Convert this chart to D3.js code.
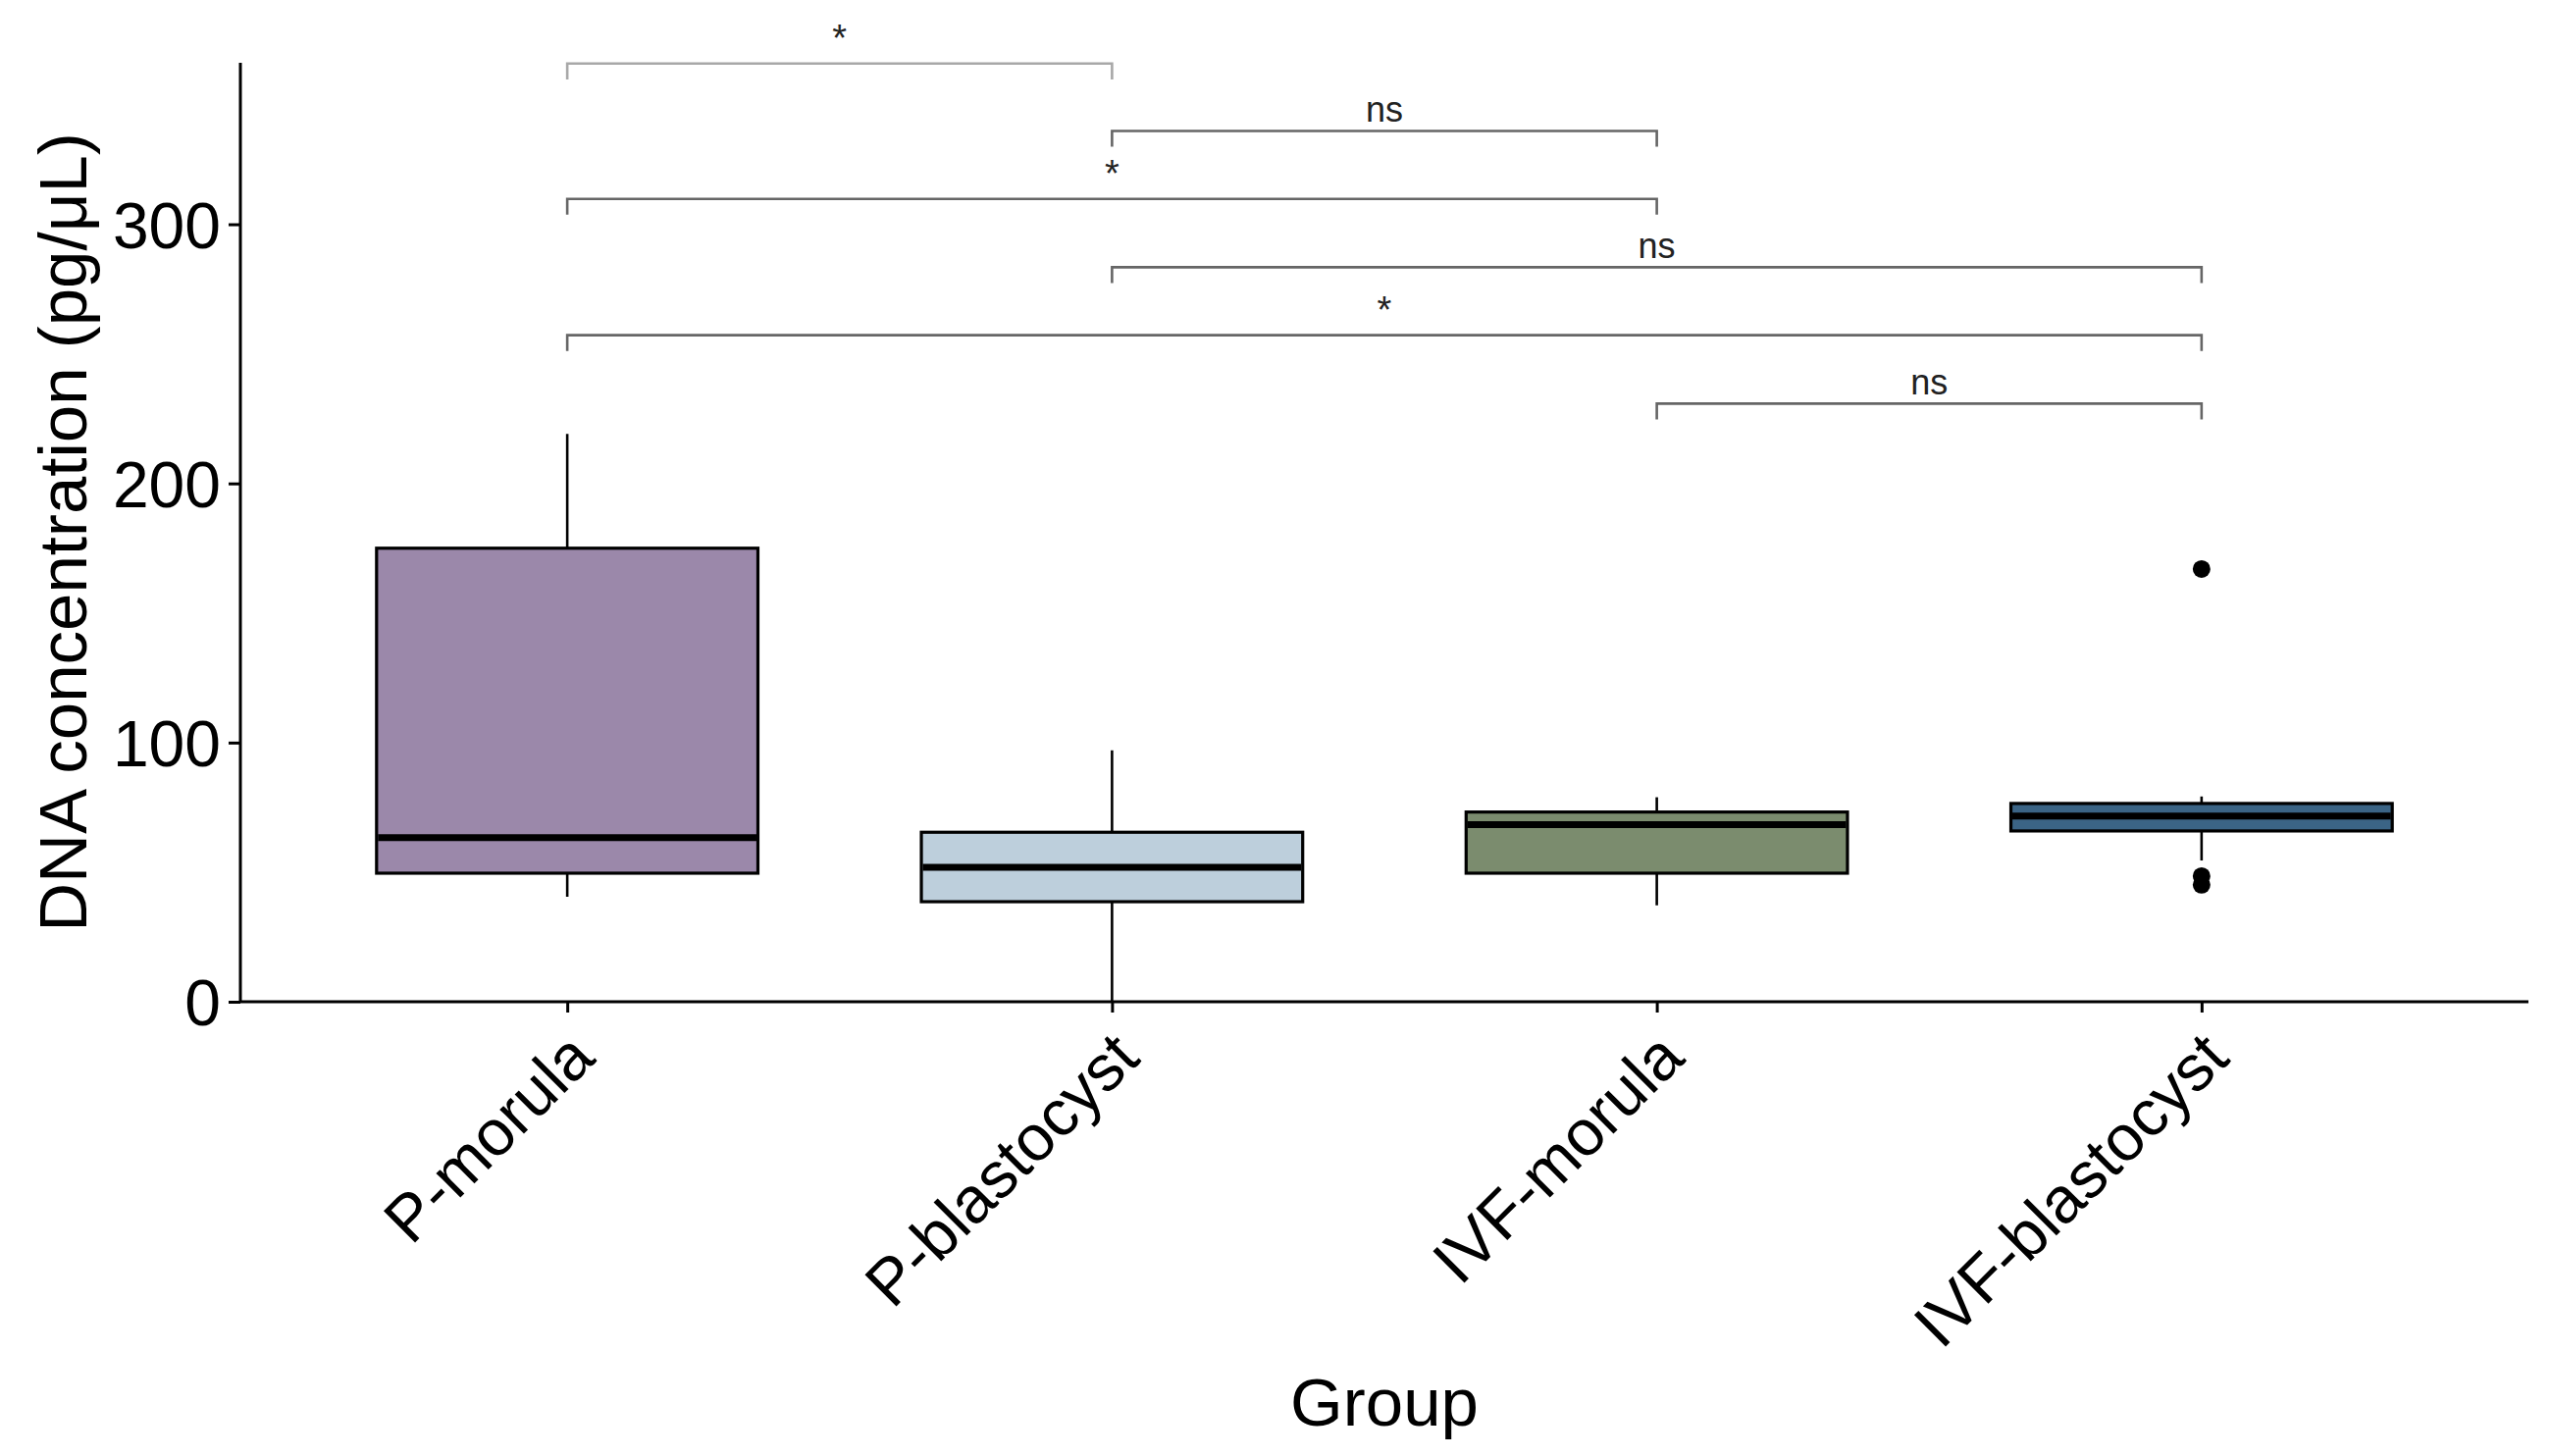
<!DOCTYPE html>
<html>
<head>
<meta charset="utf-8">
<script src="https://cdn.jsdelivr.net/npm/d3@7"></script>
<style>
  html, body { margin: 0; padding: 0; background: #ffffff; }
  svg { display: block; font-family: "Liberation Sans", Arial, sans-serif; }
</style>
</head>
<body>
<svg id="chart" width="2600" height="1484"></svg>
<script>
// ---- data ----
const categories   = ["P-morula", "P-blastocyst", "IVF-morula", "IVF-blastocyst"];
const whiskerLow   = [40.5, 0, 37.2, 54.5];
const q1           = [49.6, 38.6, 49.6, 65.9];
const medians      = [63.3, 51.9, 68.3, 71.6];
const q3           = [175.0, 65.4, 73.2, 76.5];
const whiskerHigh  = [219.1, 97.0, 78.9, 79.2];
const outlierGroup = ["IVF-blastocyst", "IVF-blastocyst", "IVF-blastocyst"];
const outlierValue = [167.0, 48.5, 45.1];
const fillColors   = ["#9b88aa", "#bdcfdc", "#7b8c6e", "#3b6485"];
const yTicks       = [0, 100, 200, 300];
const yDomain      = [0, 362.3];

// significance brackets (ggsignif-style)
const bracketFrom  = ["P-morula", "P-blastocyst", "P-morula", "P-blastocyst", "P-morula", "IVF-morula"];
const bracketTo    = ["P-blastocyst", "IVF-morula", "IVF-morula", "IVF-blastocyst", "IVF-blastocyst", "IVF-blastocyst"];
const bracketY     = [362.0, 336.0, 309.8, 283.4, 257.2, 230.8];
const bracketLabel = ["*", "ns", "*", "ns", "*", "ns"];
const bracketTip   = 6.1;

const xTitle = "Group";
const yTitle = "DNA concentration (pg/\u03bcL)";

// ---- layout ----
const plotLeft = 245, plotRight = 2577, plotTop = 64, plotBottom = 1021;

const svg = d3.select("#chart");
svg.append("rect").attr("width", 2600).attr("height", 1484).attr("fill", "#ffffff");

const x = d3.scalePoint().domain(categories).range([plotLeft, plotRight]).padding(0.6);
const y = d3.scaleLinear().domain(yDomain).range([plotBottom, plotTop]);
const boxW = x.step() * 0.7;

// ---- boxes ----
const boxes = categories.map((c, i) => ({
  cat: c, lo: whiskerLow[i], q1: q1[i], med: medians[i], q3: q3[i], hi: whiskerHigh[i], fill: fillColors[i]
}));

const g = svg.append("g");
const bg = g.selectAll("g.box").data(boxes).join("g").attr("class", "box");

// whiskers
bg.append("line")
  .attr("x1", d => x(d.cat)).attr("x2", d => x(d.cat))
  .attr("y1", d => y(d.q3)).attr("y2", d => y(d.hi))
  .attr("stroke", "#000").attr("stroke-width", 2.6);
bg.append("line")
  .attr("x1", d => x(d.cat)).attr("x2", d => x(d.cat))
  .attr("y1", d => y(d.q1)).attr("y2", d => y(d.lo))
  .attr("stroke", "#000").attr("stroke-width", 2.6);
// box
bg.append("rect")
  .attr("x", d => x(d.cat) - boxW / 2).attr("width", boxW)
  .attr("y", d => y(d.q3)).attr("height", d => y(d.q1) - y(d.q3))
  .attr("fill", d => d.fill).attr("stroke", "#000").attr("stroke-width", 3.2);
// median
bg.append("line")
  .attr("x1", d => x(d.cat) - boxW / 2 + 1.5).attr("x2", d => x(d.cat) + boxW / 2 - 1.5)
  .attr("y1", d => y(d.med)).attr("y2", d => y(d.med))
  .attr("stroke", "#000").attr("stroke-width", 7);

// outliers
g.selectAll("circle.out").data(outlierGroup.map((c, i) => ({ cat: c, v: outlierValue[i] })))
  .join("circle").attr("class", "out")
  .attr("cx", d => x(d.cat)).attr("cy", d => y(d.v)).attr("r", 9)
  .attr("fill", "#000");

// ---- axes ----
const yAxis = d3.axisLeft(y).tickValues(yTicks).tickSize(12).tickPadding(8).tickFormat(d3.format("d"));
const yG = svg.append("g").attr("transform", `translate(${plotLeft},0)`).call(yAxis);
yG.select(".domain").attr("d", `M0,${plotTop}V${plotBottom}`).attr("stroke", "#000").attr("stroke-width", 3);
yG.selectAll(".tick line").attr("stroke", "#000").attr("stroke-width", 3);
yG.selectAll(".tick text").attr("font-size", 66).attr("fill", "#000")
  .attr("font-family", "Liberation Sans, Arial, sans-serif").attr("dy", "0.36em");

const xAxis = d3.axisBottom(x).tickSize(11).tickPadding(0);
const xG = svg.append("g").attr("transform", `translate(0,${plotBottom})`).call(xAxis);
xG.select(".domain").attr("d", `M${plotLeft},0H${plotRight}`).attr("stroke", "#000").attr("stroke-width", 3);
xG.selectAll(".tick line").attr("stroke", "#000").attr("stroke-width", 3);
xG.selectAll(".tick text")
  .attr("font-size", 66).attr("fill", "#000")
  .attr("font-family", "Liberation Sans, Arial, sans-serif")
  .attr("text-anchor", "end")
  .attr("y", 0).attr("dy", 0)
  .attr("transform", "translate(30,60) rotate(-45)");

// ---- titles ----
svg.append("text").attr("x", (plotLeft + plotRight) / 2).attr("y", 1453)
  .attr("text-anchor", "middle").attr("font-size", 69).attr("fill", "#000").text(xTitle);
svg.append("text")
  .attr("transform", `translate(88,${(plotTop + plotBottom) / 2}) rotate(-90)`)
  .attr("text-anchor", "middle").attr("font-size", 69).attr("fill", "#000").text(yTitle);

// ---- significance brackets ----
const brackets = bracketFrom.map((f, i) => ({ a: f, b: bracketTo[i], v: bracketY[i], lab: bracketLabel[i], i }));
const sg = svg.append("g");
sg.selectAll("path.br").data(brackets).join("path").attr("class", "br")
  .attr("d", d => `M${x(d.a)},${y(d.v - bracketTip)}V${y(d.v)}H${x(d.b)}V${y(d.v - bracketTip)}`)
  .attr("fill", "none")
  .attr("stroke", d => d.i === 0 ? "#a8a8a8" : "#666666")
  .attr("stroke-width", 2.6);
sg.selectAll("text.bl").data(brackets).join("text").attr("class", "bl")
  .attr("x", d => (x(d.a) + x(d.b)) / 2)
  .attr("y", d => y(d.v) - (d.lab === "*" ? 13 : 9))
  .attr("text-anchor", "middle")
  .attr("font-size", d => d.lab === "*" ? 38 : 36)
  .attr("fill", "#222")
  .text(d => d.lab);
</script>
</body>
</html>
